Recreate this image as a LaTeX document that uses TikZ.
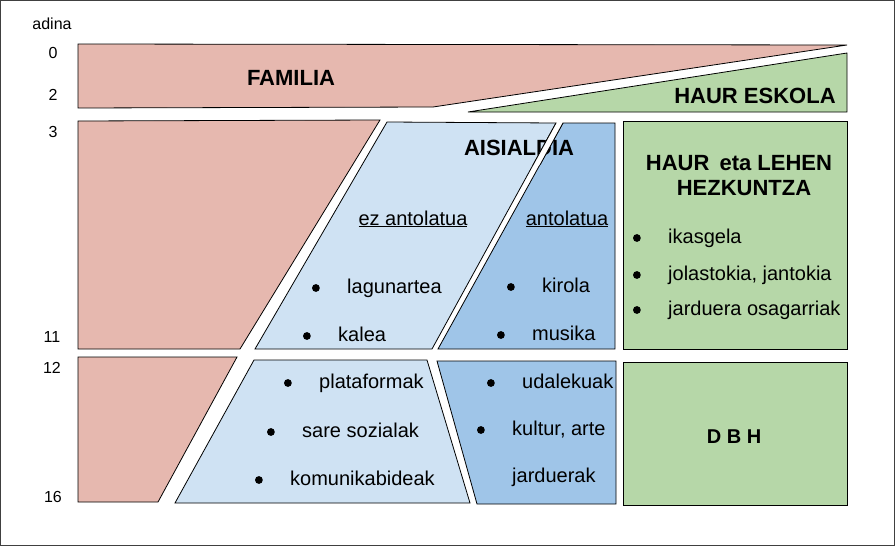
\documentclass[tikz,border=0pt]{standalone}
\usepackage{fontspec}
\setmainfont{Liberation Sans}
\definecolor{famred}{HTML}{E6B8AF}
\definecolor{freeblue}{HTML}{CFE2F3}
\definecolor{orgblue}{HTML}{9FC5E8}
\definecolor{schoolgreen}{HTML}{B6D7A8}
\newcommand{\headfont}{\bfseries\fontsize{22}{26}\selectfont}

\begin{document}
\begin{tikzpicture}[x=1pt, y=-1pt,
  area/.style={draw=black, line width=0.8pt},
  age/.style={font=\fontsize{16}{19}\selectfont, anchor=base, inner sep=0pt},
  title/.style={font=\headfont, anchor=base, inner sep=0pt},
  txt/.style={font=\fontsize{20}{24}\selectfont, inner sep=0pt,
    text height=14pt, text depth=4pt},
  dotmark/.style={circle, fill=black, inner sep=0pt, minimum size=7.8pt},
  bitem/.style={txt, anchor=west,
    label={[dotmark, label distance=27pt]left:{}}}]
  \useasboundingbox (0,0) rectangle (895,546);
  \draw[line width=1.2pt, black!75] (0.6,0.6) rectangle (894.4,545.4);

  % age axis
  \node[age] (adina) at (52,30) {adina};
  \node[age] (a0) at (53,58) {0};
  \node[age] (a2) at (53,100) {2};
  \node[age] (a3) at (53,137) {3};
  \node[age] (a11) at (52,342) {11};
  \node[age] (a12) at (52,373) {12};
  \node[age] (a16) at (53,502) {16};

  % 0-2
  \filldraw[area, fill=famred] (78,44) -- (847,45) -- (433,107) -- (78,108) -- cycle;
  \filldraw[area, fill=schoolgreen] (468,112) -- (847,53) -- (847,112) -- cycle;
  % 3-11
  \filldraw[area, fill=famred] (78,121) -- (380,120) -- (240,349) -- (78,349) -- cycle;
  \filldraw[area, fill=freeblue] (387,122) -- (556,123) -- (432,349) -- (255,349) -- cycle;
  \filldraw[area, fill=orgblue] (563,123) -- (615,123) -- (615,349) -- (438,349) -- cycle;
  \filldraw[area, fill=schoolgreen] (623,121) -- (847,121) -- (847,349) -- (623,349) -- cycle;
  % 12-16
  \filldraw[area, fill=famred] (78,357) -- (237,357) -- (158,502) -- (78,502) -- cycle;
  \filldraw[area, fill=freeblue] (254,360) -- (427,360) -- (470,503) -- (175,503) -- cycle;
  \filldraw[area, fill=orgblue] (437,361) -- (616,361) -- (616,504) -- (477,504) -- cycle;
  \filldraw[area, fill=schoolgreen] (623,362) -- (847,362) -- (847,505) -- (623,505) -- cycle;

  \node[title] (familia) at (291,85) {FAMILIA};
  \node[title] (eskola) at (755,103) {HAUR ESKOLA};
  \node[title] (aisialdia) at (519,155) {AISIALDIA};
  \node[title] (lehen) at (739,170) {HAUR\hspace{4pt} eta LEHEN};
  \node[title] (hezkuntza) at (744,195) {HEZKUNTZA};
  \node[title, font=\bfseries\fontsize{20}{24}\selectfont] (dbh) at (734,443) {D B H};

  % gap through AISIALDIA
  \fill[white] (556,123) -- (563,123) -- (540,165) -- (533,165) -- cycle;
  \draw[line width=0.8pt] (556,123) -- (533,165) (563,123) -- (540,165);

  \node[txt] (ezantol) at (413,220) {\underline{ez antolatua}};
  \node[txt] (antol) at (567,220) {\underline{antolatua}};
  \node[bitem] (lagun) at (347,288) {lagunartea};
  \node[bitem] (kalea) at (338,336) {kalea};
  \node[bitem] (kirola) at (542,287) {kirola};
  \node[bitem] (musika) at (532,335) {musika};
  \node[bitem] (ikasgela) at (668,238) {ikasgela};
  \node[bitem] (jolas) at (668,275) {jolastokia, jantokia};
  \node[bitem] (jarduera) at (668,310) {jarduera osagarriak};
  \node[bitem] (plataf) at (319,383) {plataformak};
  \node[bitem] (sare) at (302,432) {sare sozialak};
  \node[bitem] (komuni) at (290,480) {komunikabideak};
  \node[bitem] (udal) at (522,383) {udalekuak};
  \node[bitem] (kultur) at (512,430) {kultur, arte};
  \node[txt, anchor=west] (jardk) at (512,477) {jarduerak};
\end{tikzpicture}
\end{document}
